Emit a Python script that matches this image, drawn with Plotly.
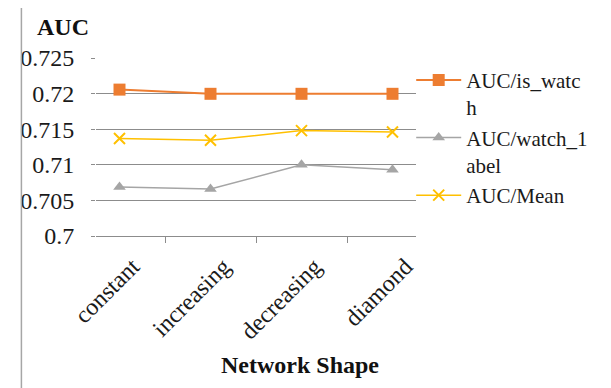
import plotly.graph_objects as go

categories = ["constant", "increasing", "decreasing", "diamond"]
auc_is_watch = [0.72056, 0.71997, 0.71997, 0.71997]
auc_watch_label = [0.70687, 0.70659, 0.7100, 0.7093]
auc_mean = [0.7137, 0.71345, 0.7148, 0.7146]
y_ticks = [0.7, 0.705, 0.71, 0.715, 0.72, 0.725]
y_tick_labels = ["0.7", "0.705", "0.71", "0.715", "0.72", "0.725"]

FONT = "'Times New Roman', Tinos, 'Liberation Serif', 'DejaVu Serif', serif"
GRID = "#8c8c8c"
TXT = "#1a1a1a"

fig = go.Figure()
fig.add_trace(go.Scatter(
    x=categories, y=auc_is_watch, name="AUC/is_watc<br>h", mode="lines+markers",
    line=dict(color="#ED7D31", width=2),
    marker=dict(symbol="square", size=12, color="#ED7D31")))
fig.add_trace(go.Scatter(
    x=categories, y=auc_watch_label, name="AUC/watch_1<br>abel", mode="lines+markers",
    line=dict(color="#A5A5A5", width=1.5),
    marker=dict(symbol="triangle-up", size=11, color="#A5A5A5")))
fig.add_trace(go.Scatter(
    x=categories, y=auc_mean, name="AUC/Mean", mode="lines+markers",
    line=dict(color="#FFC000", width=1.5),
    marker=dict(symbol="x-thin", size=11, line=dict(color="#FFC000", width=2), color="#FFC000")))

fig.update_layout(
    width=603, height=380,
    margin=dict(l=82, r=195, t=50, b=152),
    paper_bgcolor="white", plot_bgcolor="white",
    font=dict(family=FONT, size=24, color=TXT),
    showlegend=True,
    legend=dict(x=0.985, xanchor="left", y=0.99, yanchor="top",
                font=dict(family=FONT, size=21, color=TXT),
                valign="top", itemwidth=45, bgcolor="rgba(0,0,0,0)",
                tracegroupgap=0),
    xaxis=dict(type="category", tickson="boundaries", showline=True,
               linecolor=GRID, linewidth=1, ticks="outside", ticklen=6,
               tickcolor=GRID, tickangle=-45, showgrid=False,
               ticklabelshift=13, ticklabelstandoff=6,
               tickfont=dict(family=FONT, size=24, color=TXT)),
    yaxis=dict(range=[0.7, 0.725], tickvals=y_ticks, ticktext=y_tick_labels,
               showgrid=True, gridcolor=GRID, gridwidth=1, showline=False,
               zeroline=False, ticks="outside", ticklen=4, tickcolor=GRID,
               ticklabelstandoff=12,
               tickfont=dict(family=FONT, size=24, color=TXT)),
    annotations=[
        dict(text="<b>AUC</b>", xref="paper", yref="paper", x=-0.19, y=1.174,
             xanchor="left", yanchor="middle", showarrow=False,
             font=dict(family=FONT, size=24, color="#111111")),
        dict(text="<b>Network Shape</b>", xref="paper", yref="paper", x=0.638, y=-0.725,
             xanchor="center", yanchor="middle", showarrow=False,
             font=dict(family=FONT, size=24, color="#111111")),
    ],
    shapes=[
        dict(type="line", xref="paper", yref="paper", x0=-0.2331, x1=-0.2331,
             y0=-0.9, y1=1.33, line=dict(color="#a6a6a6", width=1.5)),
    ],
)

fig.write_html("out.html")
